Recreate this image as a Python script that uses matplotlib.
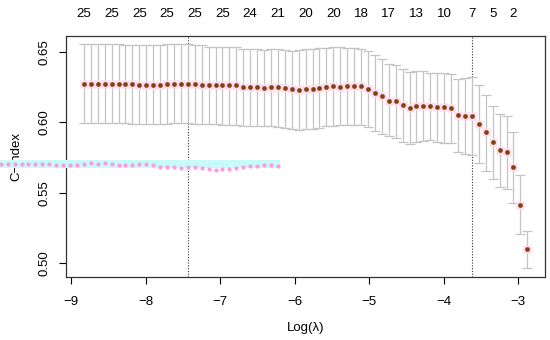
import matplotlib
matplotlib.use('Agg')
import matplotlib.pyplot as plt
import numpy as np

# Data #
log_lambda = [-8.830, -8.737, -8.644, -8.551, -8.458, -8.365, -8.272, -8.179, -8.086, -7.993,
              -7.900, -7.807, -7.714, -7.621, -7.528, -7.435, -7.342, -7.249, -7.156, -7.063,
              -6.970, -6.877, -6.784, -6.691, -6.598, -6.505, -6.412, -6.319, -6.226, -6.133,
              -6.040, -5.947, -5.854, -5.761, -5.668, -5.575, -5.482, -5.389, -5.296, -5.203,
              -5.110, -5.017, -4.924, -4.831, -4.738, -4.645, -4.552, -4.459, -4.366, -4.273,
              -4.180, -4.087, -3.994, -3.901, -3.808, -3.715, -3.622, -3.529, -3.436, -3.343,
              -3.250, -3.157, -3.064, -2.971, -2.878]

cvm = [0.6273, 0.6273, 0.6271, 0.6271, 0.6273, 0.6273, 0.6273, 0.6271, 0.6266, 0.6266,
       0.6266, 0.6266, 0.6273, 0.6275, 0.6271, 0.6275, 0.6271, 0.6266, 0.6264, 0.6266,
       0.6268, 0.6268, 0.6264, 0.6249, 0.6249, 0.6252, 0.6242, 0.6249, 0.6249, 0.6245,
       0.6235, 0.6230, 0.6238, 0.6238, 0.6242, 0.6249, 0.6257, 0.6254, 0.6261, 0.6261,
       0.6259, 0.6240, 0.6207, 0.6186, 0.6155, 0.6150, 0.6122, 0.6103, 0.6115, 0.6115,
       0.6119, 0.6108, 0.6108, 0.6100, 0.6051, 0.6046, 0.6046, 0.5992, 0.5930, 0.5864,
       0.5803, 0.5788, 0.5680, 0.5415, 0.5098]

cvup = [0.6554, 0.6554, 0.6554, 0.6554, 0.6554, 0.6554, 0.6552, 0.6552, 0.6552, 0.6552,
        0.6552, 0.6552, 0.6554, 0.6554, 0.6554, 0.6554, 0.6547, 0.6547, 0.6535, 0.6535,
        0.6535, 0.6535, 0.6535, 0.6521, 0.6521, 0.6521, 0.6514, 0.6521, 0.6521, 0.6514,
        0.6509, 0.6514, 0.6521, 0.6524, 0.6526, 0.6531, 0.6533, 0.6533, 0.6531, 0.6531,
        0.6521, 0.6507, 0.6476, 0.6450, 0.6415, 0.6408, 0.6379, 0.6360, 0.6365, 0.6363,
        0.6353, 0.6349, 0.6349, 0.6344, 0.6311, 0.6318, 0.6323, 0.6268, 0.6195, 0.6119,
        0.6063, 0.6046, 0.5933, 0.5626, 0.5230]

cvlo = [0.5998, 0.5998, 0.5998, 0.5998, 0.5998, 0.5998, 0.5998, 0.5988, 0.5988, 0.5988,
        0.5988, 0.5988, 0.5988, 0.5996, 0.5996, 0.5996, 0.5989, 0.5989, 0.5989, 0.5989,
        0.5985, 0.5985, 0.5985, 0.5973, 0.5973, 0.5973, 0.5973, 0.5975, 0.5970, 0.5963,
        0.5954, 0.5949, 0.5954, 0.5956, 0.5961, 0.5973, 0.5975, 0.5978, 0.5982, 0.5982,
        0.5980, 0.5966, 0.5940, 0.5914, 0.5900, 0.5890, 0.5862, 0.5845, 0.5859, 0.5866,
        0.5876, 0.5864, 0.5857, 0.5852, 0.5788, 0.5777, 0.5767, 0.5711, 0.5656, 0.5597,
        0.5540, 0.5523, 0.5427, 0.5207, 0.4966]

# number of nonzero coefficients shown on top axis #
nz_index = [0, 4, 8, 12, 16, 20, 24, 28, 32, 36, 40, 44, 48, 52, 56, 59, 62]
nz_labels = ['25', '25', '25', '25', '25', '25', '24', '21', '20', '20',
             '18', '17', '13', '10', '7', '5', '2']

lambda_min = -7.435
lambda_1se = -3.622

# stray cyan strip with pink dots seen in the picture #
ghost_band = [-9.95, -6.20, 0.5677, 0.5734]
ghost_n = 41
ghost_dx = -1.116
ghost_dy = -0.0567

# Figure #
plt.rcParams['font.family'] = ['Liberation Sans', 'DejaVu Sans']
fig = plt.figure(figsize=(5.5, 3.4), dpi=100)
ax = fig.add_axes([0.12, 0.185, 0.871, 0.709])

x = np.array(log_lambda)
y = np.array(cvm)
up = np.array(cvup)
lo = np.array(cvlo)

ax.errorbar(x, y, yerr=[y - lo, up - y], fmt='none', ecolor='#c4c4c4', elinewidth=0.9,
            capsize=3.3, capthick=0.9, zorder=2)
ax.plot(x, y, 's', ms=5.2, color='#fddcee', mec='none', zorder=3)
ax.plot(x, y, 'o', ms=3.4, color='#85400f', mec='none', zorder=4)

ax.axvline(lambda_min, color='#333333', ls=(0, (1, 1.5)), lw=0.8, zorder=1)
ax.axvline(lambda_1se, color='#333333', ls=(0, (1, 1.5)), lw=0.8, zorder=1)

# ghost strip #
gx = x[:ghost_n] + ghost_dx
gy = y[:ghost_n] + ghost_dy
ax.fill_between([ghost_band[0], ghost_band[1]], ghost_band[2], ghost_band[3],
                color='#c8fafa', lw=0, clip_on=False, zorder=5)
ax.plot(gx, gy, 'o', ms=3.0, color='#ff99e0', mec='none', clip_on=False, zorder=6)

ax.set_xlim(-9.07, -2.64)
ax.set_ylim(0.490, 0.6614)
ax.set_xticks([-9, -8, -7, -6, -5, -4, -3])
ax.set_yticks([0.50, 0.55, 0.60, 0.65])
ax.set_yticklabels(['0.50', '0.55', '0.60', '0.65'], rotation=90, va='center')
ax.tick_params(labelsize=9.5, length=5, width=0.8)
ax.tick_params(axis='x', pad=8.5)
ax.tick_params(axis='y', pad=6.5)

# top axis labels #
top = ax.secondary_xaxis('top')
top.set_xticks([log_lambda[i] for i in nz_index])
top.set_xticklabels(nz_labels)
top.tick_params(length=0, labelsize=9.5, pad=11.5)
top.spines['top'].set_visible(False)

for s in ax.spines.values():
    s.set_linewidth(0.9)
    s.set_color('#333333')

ax.set_xlabel('Log(λ)', fontsize=9.5, labelpad=10.5)
ax.set_ylabel('C\u2212index', fontsize=9.5, labelpad=11.5)

fig.savefig('out.png', dpi=100)
